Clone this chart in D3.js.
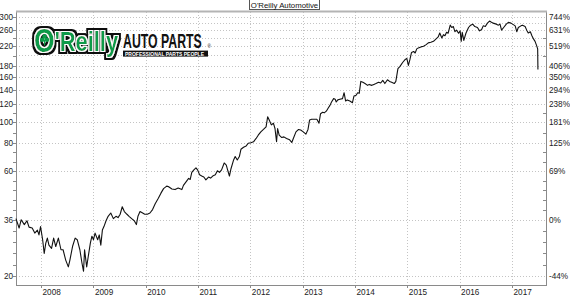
<!doctype html>
<html>

<head>
	<meta charset="utf-8">
	<style>
		body { margin: 0; background: #fff; }
		svg text { font-family: "Liberation Sans", Arial, sans-serif; }
	</style>
</head>

<body>
	<div class="figure"></div>

	<script src="https://d3js.org/d3.v7.min.js"></script>
	<script>
		// weekly-ish closing prices, time as decimal year
		const years = [
			2007.52, 2007.58, 2007.62, 2007.68, 2007.73, 2007.77, 2007.83, 2007.88, 2007.93, 2007.96, 2007.99,
			2008.03, 2008.06, 2008.09, 2008.12, 2008.15, 2008.20, 2008.24, 2008.28, 2008.33, 2008.38, 2008.42,
			2008.47, 2008.52, 2008.55, 2008.60, 2008.65, 2008.69, 2008.74, 2008.78, 2008.81, 2008.83, 2008.87,
			2008.90, 2008.94, 2008.97, 2009.00, 2009.03, 2009.08, 2009.11, 2009.14, 2009.17, 2009.20, 2009.24,
			2009.28, 2009.33, 2009.38, 2009.43, 2009.47, 2009.51, 2009.55, 2009.59, 2009.64, 2009.68, 2009.73,
			2009.78, 2009.82, 2009.85, 2009.89, 2009.94, 2009.98, 2010.03, 2010.08, 2010.13, 2010.18, 2010.24,
			2010.29, 2010.34, 2010.40, 2010.43, 2010.50, 2010.56, 2010.62, 2010.69, 2010.72, 2010.77, 2010.82,
			2010.85, 2010.88, 2010.92, 2010.96, 2010.99, 2011.03, 2011.07, 2011.11, 2011.15, 2011.20, 2011.24,
			2011.28, 2011.33, 2011.37, 2011.41, 2011.45, 2011.50, 2011.54, 2011.57, 2011.60, 2011.63, 2011.68,
			2011.71, 2011.75, 2011.79, 2011.82, 2011.87, 2011.92, 2011.96, 2012.01, 2012.06, 2012.11, 2012.15,
			2012.20, 2012.25, 2012.30, 2012.33, 2012.36, 2012.40, 2012.44, 2012.47, 2012.50, 2012.52, 2012.55,
			2012.60, 2012.64, 2012.69, 2012.75, 2012.79, 2012.82, 2012.87, 2012.92, 2012.96, 2013.01, 2013.06,
			2013.10, 2013.13, 2013.17, 2013.22, 2013.27, 2013.31, 2013.34, 2013.38, 2013.41, 2013.45, 2013.49,
			2013.52, 2013.55, 2013.59, 2013.62, 2013.64, 2013.67, 2013.71, 2013.76, 2013.79, 2013.82, 2013.85,
			2013.90, 2013.95, 2013.98, 2014.02, 2014.05, 2014.08, 2014.11, 2014.15, 2014.19, 2014.24, 2014.27,
			2014.32, 2014.36, 2014.40, 2014.45, 2014.49, 2014.53, 2014.57, 2014.62, 2014.66, 2014.70, 2014.75,
			2014.78, 2014.82, 2014.86, 2014.91, 2014.96, 2014.99, 2015.02, 2015.05, 2015.08, 2015.12, 2015.15,
			2015.18, 2015.21, 2015.26, 2015.31, 2015.36, 2015.40, 2015.45, 2015.50, 2015.55, 2015.59, 2015.62,
			2015.66, 2015.69, 2015.72, 2015.75, 2015.78, 2015.82, 2015.85, 2015.88, 2015.91, 2015.94, 2015.98,
			2016.01, 2016.03, 2016.05, 2016.08, 2016.12, 2016.17, 2016.21, 2016.25, 2016.29, 2016.34, 2016.38,
			2016.42, 2016.45, 2016.49, 2016.53, 2016.57, 2016.60, 2016.64, 2016.70, 2016.74, 2016.77, 2016.80,
			2016.84, 2016.89, 2016.93, 2016.98, 2017.01, 2017.06, 2017.09, 2017.12, 2017.17, 2017.20, 2017.25,
			2017.28, 2017.31, 2017.35, 2017.38, 2017.41, 2017.44, 2017.47, 2017.49, 2017.495
		];
		const prices = [
			36.4, 33, 36, 34.2, 35.6, 33.3, 33, 31.3, 32.3, 30.7, 33.5,
			29.2, 25.3, 28.2, 29.7, 27.6, 26.7, 29.7, 27.2, 29.7, 26.3, 26.3,
			23.6, 22, 23.6, 27.2, 29.7, 29.2, 26.3, 22.9, 21, 26.3, 22,
			24.5, 28.2, 30.3, 29.2, 31.3, 29.2, 30.7, 27.6, 32.3, 33.5, 35.6,
			37.3, 38.6, 36.4, 37.3, 36.8, 38.1, 41.2, 39.2, 38.1, 37.3, 36.4,
			35.6, 34.2, 37.3, 39.2, 38.6, 38.1, 38.1, 38.6, 40, 42.5, 45,
			47.5, 49.8, 51.1, 50.9, 49.6, 49.3, 50.1, 49.3, 51.5, 53.4, 55.4,
			54.8, 59, 60.6, 61.9, 60.6, 57.5, 56.8, 56.2, 54.6, 56.2, 55.6,
			56.8, 57.5, 60, 59, 60.6, 65.1, 63.7, 60, 56.8, 61.3, 67.2,
			69.6, 67.2, 69.6, 75.1, 76.7, 77.8, 80, 80.4, 81.2, 84.1, 87,
			90.1, 92.4, 94.9, 105.4, 101.9, 96.9, 98.6, 93.3, 81.2, 93.3, 87,
			84.9, 85.5, 84.1, 82.9, 80.6, 84.1, 90.1, 92.4, 91.8, 90.1, 88,
			92.4, 101.9, 102.7, 102.7, 102.7, 98.6, 108.9, 110.5, 109.9, 111.8, 115.9,
			118.8, 123, 127.5, 126.6, 123, 125.8, 126.6, 127.5, 135.6, 124.3, 125.8,
			124.3, 122.2, 131.1, 132.1, 135.6, 134.7, 152.6, 151.1, 149.2, 146.4, 147.9,
			146.4, 147.9, 149.2, 151.1, 150.1, 154.2, 149.2, 155.3, 152.6, 151.1, 149.2,
			152.6, 174.4, 178.6, 185.9, 191.9, 194, 180.2, 191.9, 206.4, 208.5, 205.3,
			214.3, 216.5, 218.8, 220.2, 224.1, 228.1, 229.5, 231.9, 237.8, 242.7, 253.1,
			240.3, 248.6, 246, 254.9, 252.3, 274.6, 267.9, 270.6, 256.4, 260.6, 252.3,
			258.7, 231.9, 254.9, 234.3, 252.3, 267.9, 274.6, 277.5, 270.6, 267.9, 258.7,
			262.3, 272.6, 270.6, 280.4, 286.7, 283.7, 280.4, 277.5, 274.6, 277.5, 260.6,
			267.9, 277.5, 282.6, 280.4, 277.5, 272.6, 256.4, 267.9, 272.6, 274.6, 270.6,
			260.6, 253.1, 256.4, 246, 237.8, 231.9, 221.6, 214.3, 172.7
		];
		const yearLabels = ["2008", "2009", "2010", "2011", "2012", "2013", "2014", "2015", "2016", "2017"];
		const priceTicks = [20, 36, 60, 80, 100, 120, 140, 160, 180, 220, 260, 300];
		const pctLabels = ["-44%", "0%", "69%", "125%", "181%", "238%", "294%", "350%", "406%", "519%", "631%", "744%"];
		const extraGrid = [200, 240, 280];
		const title = "O'Reilly Automotive";

		function toDate(t) {
			let yr = Math.floor(t);
			let a = new Date(yr, 0, 1), b = new Date(yr + 1, 0, 1);
			return new Date(+a + (t - yr) * (b - a));
		}

		let svg = d3.select(".figure")
			.append("svg")
			.attr("width", 570)
			.attr("height", 297)
			.style("display", "block");

		const pl = 16, pr = 546, pt = 12, pb = 285;

		let x = d3.scaleTime()
			.domain([new Date(2007, 6, 10), new Date(2017, 7, 26)])
			.range([pl, pr]);
		let y = d3.scaleLog()
			.domain([18.2, 315])
			.range([pb, pt]);

		// grid
		let grid = svg.append("g")
			.attr("stroke", "#c4c4c4")
			.attr("stroke-width", 1)
			.attr("stroke-dasharray", "1,2");
		grid.selectAll("line.h")
			.data(priceTicks.concat(extraGrid))
			.join("line")
			.attr("x1", pl).attr("x2", pr)
			.attr("y1", d => Math.round(y(d)) + 0.5)
			.attr("y2", d => Math.round(y(d)) + 0.5);
		grid.selectAll("line.v")
			.data(yearLabels)
			.join("line")
			.attr("x1", d => Math.round(x(new Date(+d, 0, 1))) + 0.5)
			.attr("x2", d => Math.round(x(new Date(+d, 0, 1))) + 0.5)
			.attr("y1", pt).attr("y2", pb);

		// minor ticks between labelled values
		let minor = [];
		for (let i = 0; i < priceTicks.length - 1; i++) {
			let a = priceTicks[i], b = priceTicks[i + 1];
			let n = Math.max(1, Math.round((y(a) - y(b)) / 10.5));
			for (let k = 1; k < n; k++) minor.push(a * Math.pow(b / a, k / n));
		}

		let axes = svg.append("g").attr("stroke", "#8a8a8a").attr("stroke-width", 1);
		axes.append("line").attr("x1", pl + 0.5).attr("x2", pl + 0.5).attr("y1", pt).attr("y2", pb + 1);
		axes.append("line").attr("x1", pr + 0.5).attr("x2", pr + 0.5).attr("y1", pt).attr("y2", pb + 1);
		axes.append("line").attr("x1", pl).attr("x2", pr + 1).attr("y1", pb + 0.5).attr("y2", pb + 0.5);
		svg.append("line")
			.attr("x1", pl).attr("x2", pr + 1)
			.attr("y1", pt - 0.5).attr("y2", pt - 0.5)
			.attr("stroke", "#b4b4b4").attr("stroke-width", 2);

		axes.selectAll("line.lt")
			.data(priceTicks.concat(minor))
			.join("line")
			.attr("x1", pl - 3).attr("x2", pl)
			.attr("y1", d => Math.round(y(d)) + 0.5)
			.attr("y2", d => Math.round(y(d)) + 0.5);
		axes.selectAll("line.rt")
			.data(minor)
			.join("line")
			.attr("x1", pr - 3).attr("x2", pr)
			.attr("y1", d => Math.round(y(d)) + 0.5)
			.attr("y2", d => Math.round(y(d)) + 0.5);
		axes.selectAll("line.xt")
			.data(yearLabels)
			.join("line")
			.attr("x1", d => Math.round(x(new Date(+d, 0, 1))) + 0.5)
			.attr("x2", d => Math.round(x(new Date(+d, 0, 1))) + 0.5)
			.attr("y1", pb).attr("y2", pb + 3);

		// labels
		let lab = svg.append("g").attr("font-size", "8.2px").attr("fill", "#222");
		lab.selectAll("text.l")
			.data(priceTicks)
			.join("text")
			.attr("x", pl - 3)
			.attr("y", d => y(d) + 3)
			.attr("text-anchor", "end")
			.text(d => d);
		lab.selectAll("text.r")
			.data(priceTicks)
			.join("text")
			.attr("x", pr + 3)
			.attr("y", d => y(d) + 3)
			.text((d, i) => pctLabels[i]);
		lab.selectAll("text.x")
			.data(yearLabels)
			.join("text")
			.attr("x", d => x(new Date(+d, 0, 1)) + 1.5)
			.attr("y", 295)
			.text(d => d);

		// price line
		let line = d3.line()
			.x((d, i) => x(toDate(years[i])))
			.y(d => y(d));
		svg.append("path")
			.datum(prices)
			.attr("fill", "none")
			.attr("stroke", "#111")
			.attr("stroke-width", 1.1)
			.attr("stroke-linejoin", "round")
			.attr("d", line);

		// title box
		svg.append("rect")
			.attr("x", 249.5).attr("y", -0.5)
			.attr("width", 70).attr("height", 10)
			.attr("fill", "#fff").attr("stroke", "#555");
		svg.append("text")
			.attr("x", 284.5).attr("y", 7.5)
			.attr("text-anchor", "middle")
			.attr("font-size", "7.8px")
			.attr("fill", "#111")
			.text(title);

		// logo
		const green = "#0c9a48";
		let defs = svg.append("defs");
		let f = defs.append("filter").attr("id", "outline")
			.attr("x", "-15%").attr("y", "-25%").attr("width", "130%").attr("height", "150%");
		f.append("feMorphology").attr("in", "SourceAlpha").attr("operator", "dilate").attr("radius", 1.3).attr("result", "w");
		f.append("feMorphology").attr("in", "SourceAlpha").attr("operator", "dilate").attr("radius", 3.4).attr("result", "b");
		f.append("feFlood").attr("flood-color", "#111").attr("result", "bc");
		f.append("feComposite").attr("in", "bc").attr("in2", "b").attr("operator", "in").attr("result", "bo");
		f.append("feFlood").attr("flood-color", "#fff").attr("result", "wc");
		f.append("feComposite").attr("in", "wc").attr("in2", "w").attr("operator", "in").attr("result", "wo");
		let m = f.append("feMerge");
		m.append("feMergeNode").attr("in", "bo");
		m.append("feMergeNode").attr("in", "wo");
		m.append("feMergeNode").attr("in", "SourceGraphic");

		let logo = svg.append("g");
		let word = logo.append("text")
			.attr("transform", "translate(34,51.5) scale(0.78,1)")
			.attr("font-weight", "bold")
			.attr("fill", green)
			.attr("filter", "url(#outline)");
		word.append("tspan").attr("font-size", "34px").text("O");
		word.append("tspan").attr("font-size", "28px").attr("dy", -1).text("'Reilly");

		let sham = logo.append("g").attr("fill", green);
		[[44.6, 36.4], [42.3, 39.8], [46.9, 39.8]].forEach(c => {
			sham.append("circle").attr("cx", c[0]).attr("cy", c[1]).attr("r", 2.3);
		});
		sham.append("rect").attr("x", 44).attr("y", 40).attr("width", 1.2).attr("height", 5.5);

		logo.append("text")
			.attr("transform", "translate(123,47.6) scale(0.6,1)")
			.attr("font-size", "20.5px")
			.attr("font-weight", "bold")
			.attr("fill", "#111")
			.text("AUTO PARTS");
		logo.append("text")
			.attr("x", 207.5).attr("y", 47.6)
			.attr("font-size", "4.5px")
			.attr("fill", "#111")
			.text("®");
		logo.append("rect")
			.attr("x", 123).attr("y", 50.6)
			.attr("width", 85).attr("height", 6)
			.attr("fill", "#111");
		logo.append("text")
			.attr("x", 125).attr("y", 56.1)
			.attr("font-size", "5px")
			.attr("font-weight", "bold")
			.attr("textLength", 79)
			.attr("lengthAdjust", "spacingAndGlyphs")
			.attr("fill", "#fff")
			.text("PROFESSIONAL PARTS PEOPLE");
	</script>

</body>

</html>
